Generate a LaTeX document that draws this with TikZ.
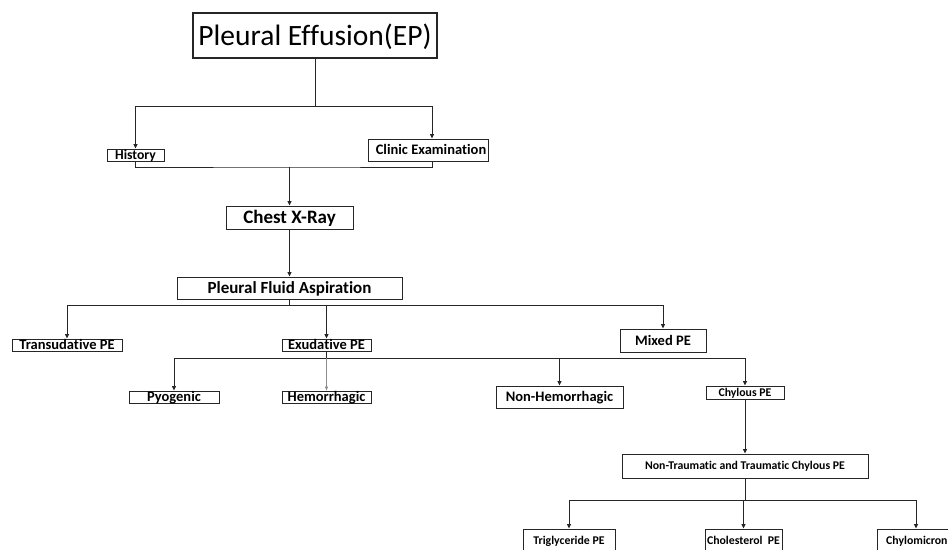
\documentclass[tikz,border=0pt]{standalone}
\usepackage{fontspec}
\setmainfont{Carlito}[Ligatures=NoCommon]
\usetikzlibrary{arrows.meta}
\begin{document}
\begin{tikzpicture}[x=1pt,y=-1pt,
  box/.style={draw=black!85, line width=0.9pt, inner sep=0pt, fill=white},
  lab/.style={inner sep=0pt, anchor=base, yshift={-0.33pt*#1}, font=\bfseries\fontsize{#1}{#1}\selectfont},
  lab/.default=14.5,
  conn/.style={draw=black!85, line width=1pt},
  arr/.style={conn, -{Triangle[length=4.5pt,width=4pt]}},
  arrgray/.style={draw=black!45, line width=0.5pt, -{Triangle[length=4pt,width=3pt]}}]
\useasboundingbox (0,0) rectangle (948,549);
\clip (0,0) rectangle (948,549);
% boxes
\node[box, line width=1.3pt, minimum width=244, minimum height=45] (title) at (315,35.5) {};
\node[inner sep=0pt, anchor=base, yshift=-10pt, font=\fontsize{29.5}{32}\selectfont] (titlel) at (title.center) {Pleural Effusion(EP)};
\node[box, minimum width=57, minimum height=12] (hist) at (135.5,155) {};
\node[lab=13.7] (histl) at (hist.center) {History};
\node[box, minimum width=120, minimum height=22] (clinic) at (428,150) {};
\node[lab] (clinicl) at ([xshift=3pt]clinic.center) {Clinic Examination};
\node[box, minimum width=127, minimum height=23] (chest) at (289.5,217.5) {};
\node[lab=19] (chestl) at (chest.center) {Chest X-Ray};
\node[box, minimum width=225, minimum height=22] (pfa) at (289.5,288) {};
\node[lab=17] (pfal) at (pfa.center) {Pleural Fluid Aspiration};
\node[box, minimum width=110, minimum height=12] (trans) at (67,345) {};
\node[lab] (transl) at (trans.center) {Transudative PE};
\node[box, minimum width=89, minimum height=12] (exud) at (326.5,345) {};
\node[lab] (exudl) at (exud.center) {Exudative PE};
\node[box, minimum width=86, minimum height=23] (mixed) at (663,340.5) {};
\node[lab] (mixedl) at (mixed.center) {Mixed PE};
\node[box, minimum width=90, minimum height=12] (pyo) at (174,397) {};
\node[lab] (pyol) at (pyo.center) {Pyogenic};
\node[box, minimum width=89, minimum height=12] (hem) at (326.5,397) {};
\node[lab] (heml) at (hem.center) {Hemorrhagic};
\node[box, minimum width=127, minimum height=22] (nonhem) at (559.5,397) {};
\node[lab] (nonheml) at (nonhem.center) {Non-Hemorrhagic};
\node[box, minimum width=78, minimum height=13] (chyl) at (745,392.5) {};
\node[lab=11.8] (chyll) at (chyl.center) {Chylous PE};
\node[box, minimum width=246, minimum height=24] (nt) at (745,466) {};
\node[lab=11.8] (ntl) at (nt.center) {Non-Traumatic and Traumatic Chylous PE};
\node[box, minimum width=92, minimum height=24] (trig) at (569,541) {};
\node[lab=11.8] (trigl) at (trig.center) {Triglyceride PE};
\node[box, minimum width=77, minimum height=24] (chol) at (743.5,541) {};
\node[lab=11.8] (choll) at (chol.center) {Cholesterol\ \ PE};
\node[box, minimum width=78, minimum height=24] (chylo) at (916,541) {};
\node[lab=11.8, anchor=base west] (chylol) at (886,541) {Chylomicron};
% junctions
\coordinate (j1) at (315,106);
\coordinate (j2) at (289.5,167);
\coordinate (j3) at (289.5,305);
\coordinate (j4) at (326.5,358);
\coordinate (j5) at (745,500);
% connectors
\draw[conn] (title.south) -- (j1);
\draw[arr] (j1) -| (hist.north);
\draw[arr] (j1) -| ([xshift=4pt]clinic.north);
\draw[conn] (hist.south) |- (j2) -| ([xshift=4pt]clinic.south);
\draw[arr] (j2) -- (chest.north);
\draw[arr] (chest.south) -- (pfa.north);
\draw[conn] (pfa.south) -- (j3);
\draw[arr] (j3) -| (trans.north);
\draw[arr] (j3) -| (exud.north);
\draw[arr] (j3) -| (mixed.north);
\draw[conn] (exud.south) -- (j4);
\draw[arr] (j4) -| (pyo.north);
\draw[arrgray] (j4) -- (hem.north);
\draw[arr] (j4) -| (nonhem.north);
\draw[arr] (j4) -| (chyl.north);
\draw[arr] (chyl.south) -- (nt.north);
\draw[conn] (nt.south) -- (j5);
\draw[arr] (j5) -| (trig.north);
\draw[arr] (j5) -| (chol.north);
\draw[arr] (j5) -| (chylo.north);
\end{tikzpicture}
\end{document}
